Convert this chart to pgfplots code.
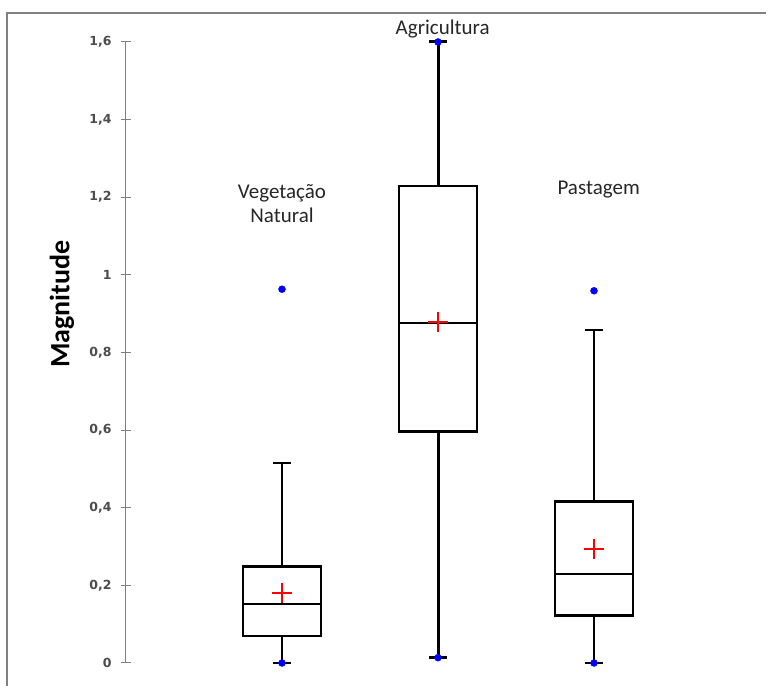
\documentclass[border=0pt]{standalone}
\usepackage{pgfplots}
\pgfplotsset{compat=1.18}
\usepgfplotslibrary{statistics}
\usepackage{fontspec}
\setmainfont{Carlito}
\newfontfamily\tickfont{DejaVu Sans}
\begin{document}
\begin{tikzpicture}
\begin{axis}[
  scale only axis, width=624pt, height=621pt,
  xmin=0, xmax=4, ymin=0, ymax=1.6,
  axis x line=none, axis y line*=left,
  axis line style={-, draw=black!50, line width=1pt},
  clip=false,
  ytick={0,0.2,0.4,0.6,0.8,1,1.2,1.4,1.6},
  yticklabels={0,{0,2},{0,4},{0,6},{0,8},1,{1,2},{1,4},{1,6}},
  tick align=center, major tick length=10pt,
  tick style={draw=black!50, line width=1pt},
  yticklabel style={font=\tickfont\fontsize{12.5}{14}\selectfont\bfseries, text=black!70, xshift=-6pt},
  boxplot/draw direction=y,
  boxplot/every box/.style={line width=2.6pt},
  boxplot/every median/.style={line width=2pt},
  boxplot/every whisker/.style={line width=2pt},
]
% bounding box (768 x 686 px)
\path (axis cs:-0.8077,-0.0593) rectangle (axis cs:4.1154,1.7082);
% outer frame (top and left)
\draw[draw=black!50, line width=2pt] (axis cs:-0.7628,-0.0593) -- (axis cs:-0.7628,1.6747) -- (axis cs:4.105,1.6747);

\addplot[black, mark=none, boxplot prepared={draw position=1, lower whisker=0, lower quartile=0.0696, median=0.153, upper quartile=0.248, upper whisker=0.514, box extend=0.5, whisker extend=0.115}] coordinates {};
\addplot[black, mark=none, boxplot/every whisker/.style={line width=3pt}, boxplot prepared={draw position=2, lower whisker=0.0137, lower quartile=0.597, median=0.875, upper quartile=1.229, upper whisker=1.6, box extend=0.5, whisker extend=0.115}] coordinates {};
\addplot[black, mark=none, boxplot prepared={draw position=3, lower whisker=0, lower quartile=0.122, median=0.228, upper quartile=0.416, upper whisker=0.857, box extend=0.5, whisker extend=0.115}] coordinates {};

% means
\addplot[only marks, mark=+, mark size=10pt, red, line width=1.6pt] coordinates {(1,0.180) (2,0.878) (3,0.293)};
% min/max and outliers
\addplot[only marks, mark=*, mark size=3.5pt, blue, draw=blue, fill=blue] coordinates {(1,0.963) (1,0) (2,1.6) (2,0.0137) (3,0.959) (3,0)};

% labels
\node[rotate=90, font=\fontsize{28}{30}\selectfont\bfseries] at (axis cs:-0.41,0.925) {Magnitude};
\node[align=center, font=\fontsize{21}{24}\selectfont, text=black!85] at (axis cs:1,1.1826) {Vegetação\\Natural};
\node[font=\fontsize{21}{24}\selectfont, text=black!85] at (axis cs:2.03,1.634) {Agricultura};
\node[font=\fontsize{21}{24}\selectfont, text=black!85] at (axis cs:3.03,1.2187) {Pastagem};
\end{axis}
\end{tikzpicture}
\end{document}
